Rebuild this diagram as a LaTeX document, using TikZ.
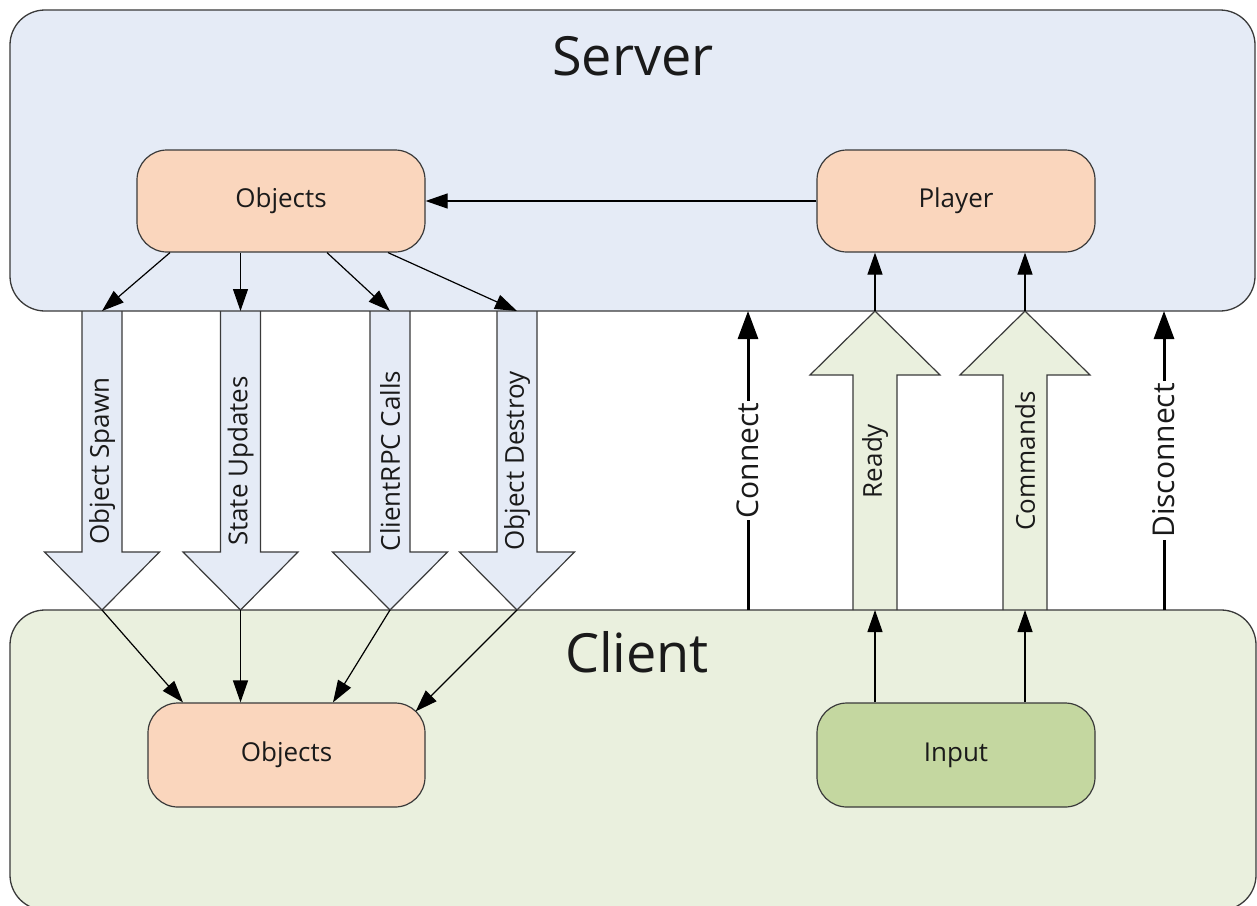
\documentclass[tikz,border=0pt]{standalone}
\usepackage{fontspec}
\setmainfont{Open Sans}
\usetikzlibrary{arrows.meta}
\definecolor{srvfill}{HTML}{E5EBF6}
\definecolor{clifill}{HTML}{EAF0DE}
\definecolor{peach}{HTML}{FAD6BD}
\definecolor{inputfill}{HTML}{C4D7A0}
\definecolor{edgegray}{HTML}{3A3A3A}
\definecolor{txt}{HTML}{1A1A1A}
\newcommand\bigdownshape[1]{%
  \filldraw[bigshape, fill=srvfill] ({#1-20},311) -- ({#1-20},552) -- ({#1-57.5},552) -- (#1,610) -- ({#1+57.5},552) -- ({#1+20},552) -- ({#1+20},311);}
\newcommand\bigupshape[1]{%
  \filldraw[bigshape, fill=clifill] ({#1-22},610) -- ({#1-22},375) -- ({#1-65},375) -- (#1,311) -- ({#1+65},375) -- ({#1+22},375) -- ({#1+22},610);}
\begin{document}
\begin{tikzpicture}[x=1pt,y=-1pt,
  bigshape/.style={draw=edgegray, line width=1.2pt, line join=miter},
  boxborder/.style={draw=edgegray, line width=1.3pt, rounded corners=35pt},
  inbox/.style={draw=edgegray, line width=1.2pt, rounded corners=30pt, inner sep=0pt,
    font=\fontsize{26}{32}\selectfont, text=txt},
  conn/.style={draw=black, line width=1.2pt, -{Triangle[length=22pt,width=15pt]}},
  thickconn/.style={draw=black, line width=3pt, -{Triangle[length=28pt,width=20pt]}},
  arrlabel/.style={rotate=90, font=\fontsize{26}{32}\selectfont, text=txt, inner sep=0pt},
  vlabel/.style={midway, rotate=90, fill=white, inner sep=2pt, font=\fontsize{30}{36}\selectfont, text=txt},
  title/.style={anchor=base, font=\fontsize{54}{64}\selectfont, text=txt}
]
\clip (0,0) rectangle (1257,905);
\fill[white] (0,0) rectangle (1257,905);
% box fills
\fill[srvfill, rounded corners=35pt] (10,10) rectangle (1255,311);
\fill[clifill, rounded corners=35pt] (10,610) rectangle (1256,910);
% big arrows
\bigdownshape{102}
\bigdownshape{240.5}
\bigdownshape{390}
\bigdownshape{517}
\bigupshape{875}
\bigupshape{1025}
% box borders
\draw[boxborder] (10,10) rectangle (1255,311);
\draw[boxborder] (10,610) rectangle (1256,910);
% titles
\node[title] (srvtitle) at (633,75) {Server};
\node[title] (clititle) at (637,672) {Client};
% inner nodes
\node[inbox, fill=peach, minimum width=288pt, minimum height=102pt] (objS) at (281,201) {Objects};
\node[inbox, fill=peach, minimum width=278pt, minimum height=102pt] (player) at (956,201) {Player};
\node[inbox, fill=peach, minimum width=277pt, minimum height=104pt] (objC) at (286.5,755) {Objects};
\node[inbox, fill=inputfill, minimum width=278pt, minimum height=104pt] (input) at (956,755) {Input};
% coordinates at big arrow ends
\coordinate (sp-top) at (102,311);   \coordinate (sp-tip) at (102,610);
\coordinate (su-top) at (240.5,311); \coordinate (su-tip) at (240.5,610);
\coordinate (rpc-top) at (390,311);  \coordinate (rpc-tip) at (390,610);
\coordinate (des-top) at (517,311);  \coordinate (des-tip) at (517,610);
\coordinate (rd-top) at (875,311);   \coordinate (rd-bot) at (875,610);
\coordinate (cm-top) at (1025,311);  \coordinate (cm-bot) at (1025,610);
\coordinate (con-top) at (748,311);  \coordinate (con-bot) at (748,610);
\coordinate (dis-top) at (1164,311); \coordinate (dis-bot) at (1164,610);
% big arrow labels
\node[arrlabel] (lsp) at (102,461) {Object Spawn};
\node[arrlabel] (lsu) at (240.5,461) {State Updates};
\node[arrlabel] (lrpc) at (390,461) {ClientRPC Calls};
\node[arrlabel] (ldes) at (517,461) {Object Destroy};
\node[arrlabel] (lrd) at (875,461) {Ready};
\node[arrlabel] (lcm) at (1025,461) {Commands};
% connectors server side
\draw[conn] (player.west) -- (objS.east);
\draw[conn] ([xshift=-111pt]objS.south) -- (sp-top);
\draw[conn] ([xshift=-40.5pt]objS.south) -- (su-top);
\draw[conn] ([xshift=46pt]objS.south) -- (rpc-top);
\draw[conn] ([xshift=107pt]objS.south) -- (des-top);
\draw[conn] (rd-top) -- ([xshift=-81pt]player.south);
\draw[conn] (cm-top) -- ([xshift=69pt]player.south);
% connectors client side
\draw[conn] (sp-tip) -- ([xshift=-103.5pt]objC.north);
\draw[conn] (su-tip) -- ([xshift=-46pt]objC.north);
\draw[conn] (rpc-tip) -- ([xshift=46.5pt]objC.north);
\draw[conn] (des-tip) -- ([xshift=-10pt,yshift=-9pt]objC.north east);
\draw[conn] ([xshift=-81pt]input.north) -- (rd-bot);
\draw[conn] ([xshift=69pt]input.north) -- (cm-bot);
% connect / disconnect
\draw[thickconn] (con-bot) -- node[vlabel] (lcon) {Connect} (con-top);
\draw[thickconn] (dis-bot) -- node[vlabel] (ldis) {Disconnect} (dis-top);
\end{tikzpicture}
\end{document}
